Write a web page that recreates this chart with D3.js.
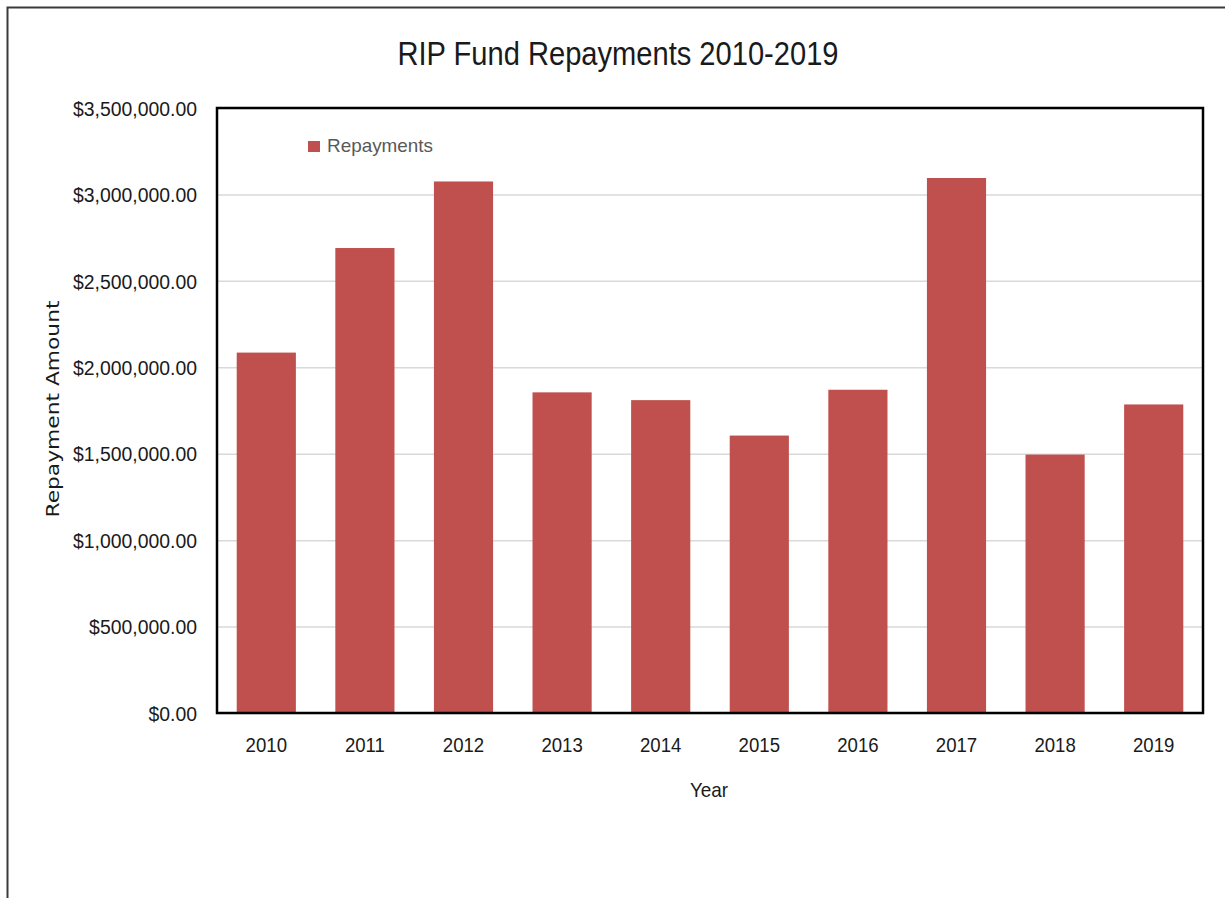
<!DOCTYPE html>
<html>
<head>
<meta charset="utf-8">
<script src="https://cdn.jsdelivr.net/npm/d3@7"></script>
<style>
  html, body { margin: 0; padding: 0; background: #fff; }
  svg { display: block; }
</style>
</head>
<body>
<svg id="chart" width="1225" height="898"></svg>
<script>
const years = ["2010","2011","2012","2013","2014","2015","2016","2017","2018","2019"];
const repayments = [2085000, 2690000, 3075000, 1855000, 1810000, 1605000, 1870000, 3095000, 1495000, 1785000];
const yTicks = [0, 500000, 1000000, 1500000, 2000000, 2500000, 3000000, 3500000];
const seriesName = "Repayments";
const chartTitle = "RIP Fund Repayments 2010-2019";
const xTitle = "Year";
const yTitle = "Repayment Amount";

const svg = d3.select("#chart");
const W = 1225, H = 898;
const plot = { left: 217, top: 108, right: 1203, bottom: 713 };
const barColor = "#C0504D";
const hFont = "'Liberation Sans', Arial, sans-serif";

// outer frame (only left/top visible)
svg.append("path")
  .attr("d", `M7.5,${H} L7.5,7.5 L${W},7.5`)
  .attr("fill", "none").attr("stroke", "#3a3a3a").attr("stroke-width", 2);

const x = d3.scaleBand().domain(years).range([plot.left, plot.right])
  .paddingInner(0.4).paddingOuter(0.2);
const y = d3.scaleLinear().domain([0, 3500000]).range([plot.bottom, plot.top]);

// gridlines
svg.append("g")
  .attr("transform", `translate(${plot.left},0)`)
  .call(d3.axisLeft(y).tickValues(yTicks).tickSize(-(plot.right - plot.left)).tickFormat(""))
  .call(g => g.select(".domain").remove())
  .call(g => g.selectAll("line").attr("stroke", "#d9d9d9").attr("stroke-width", 1.5));

// bars
svg.append("g").selectAll("rect")
  .data(repayments)
  .join("rect")
  .attr("x", (d, i) => x(years[i]))
  .attr("y", d => y(d))
  .attr("width", x.bandwidth())
  .attr("height", d => y(0) - y(d))
  .attr("fill", barColor);

// plot frame
svg.append("rect")
  .attr("x", plot.left).attr("y", plot.top)
  .attr("width", plot.right - plot.left).attr("height", plot.bottom - plot.top)
  .attr("fill", "none").attr("stroke", "#000").attr("stroke-width", 2.5);

function squeezeText(sel, k) {
  sel.each(function () {
    const len = this.getComputedTextLength();
    d3.select(this).attr("textLength", len * k).attr("lengthAdjust", "spacingAndGlyphs");
  });
}

// y axis labels
const yAxisG = svg.append("g")
  .attr("transform", `translate(${plot.left},0)`)
  .call(d3.axisLeft(y).tickValues(yTicks).tickSize(0).tickPadding(20).tickFormat(d3.format("$,.2f")));
yAxisG.select(".domain").remove();
yAxisG.selectAll("text")
  .attr("font-family", hFont).attr("font-size", 20).attr("fill", "#1a1a1a")
  .attr("dy", "0.36em")
  .call(squeezeText, 0.97);

// x axis labels
const xAxisG = svg.append("g")
  .attr("transform", `translate(0,${plot.bottom})`)
  .call(d3.axisBottom(x).tickSize(0).tickPadding(33));
xAxisG.select(".domain").remove();
xAxisG.selectAll("text")
  .attr("font-family", hFont).attr("font-size", 20).attr("fill", "#1a1a1a")
  .attr("dy", "0.3em")
  .call(squeezeText, 0.93);

// title
svg.append("text")
  .attr("x", 618).attr("y", 65)
  .attr("text-anchor", "middle")
  .attr("font-family", hFont).attr("font-size", 33).attr("fill", "#1a1a1a")
  .attr("textLength", 441).attr("lengthAdjust", "spacingAndGlyphs")
  .text(chartTitle);

// x title
svg.append("text")
  .attr("x", 709).attr("y", 797)
  .attr("text-anchor", "middle")
  .attr("font-family", hFont).attr("font-size", 21).attr("fill", "#1a1a1a")
  .text(xTitle)
  .call(squeezeText, 0.9);

// y title
svg.append("text")
  .attr("transform", "translate(59,409) rotate(-90)")
  .attr("text-anchor", "middle")
  .attr("font-family", "'DejaVu Sans', Verdana, sans-serif").attr("font-size", 17).attr("fill", "#1a1a1a")
  .attr("textLength", 217).attr("lengthAdjust", "spacingAndGlyphs")
  .text(yTitle);

// legend
const legend = svg.append("g");
legend.append("rect")
  .attr("x", 308).attr("y", 141).attr("width", 12).attr("height", 11)
  .attr("fill", barColor);
legend.append("text")
  .attr("x", 327).attr("y", 152)
  .attr("font-family", hFont).attr("font-size", 19).attr("fill", "#595959")
  .attr("textLength", 106).attr("lengthAdjust", "spacingAndGlyphs")
  .text(seriesName);
</script>
</body>
</html>
